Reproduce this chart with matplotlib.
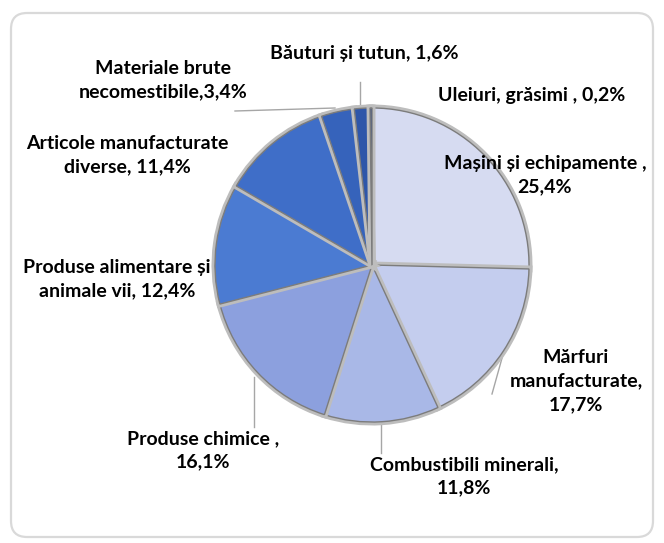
import matplotlib.pyplot as plt
from matplotlib.patches import FancyBboxPatch
from matplotlib.patheffects import Stroke, Normal

# Export structure by product group (share of total, %)
groups = ["Mașini și echipamente ,", "Mărfuri\nmanufacturate,", "Combustibili minerali,",
          "Produse chimice ,", "Produse alimentare și\nanimale vii,", "Articole manufacturate\ndiverse,",
          "Materiale brute\nnecomestibile,", "Băuturi și tutun,", "Uleiuri, grăsimi ,"]
shares = [25.4, 17.7, 11.8, 16.1, 12.4, 11.4, 3.4, 1.6, 0.2]
colors = ["#d6dbf1", "#c4cdee", "#a9b8e7", "#8ca0de", "#4b7bd2",
          "#3f6ec8", "#3663bb", "#2e56a9", "#213f84"]

W, H = 664, 543

fig = plt.figure(figsize=(W / 100, H / 100), dpi=100)
ax = fig.add_axes([0, 0, 1, 1])

# rounded frame around the chart
frame = FancyBboxPatch((11, 6), W - 22, H - 19, boxstyle="round,pad=0,rounding_size=16",
                       facecolor="white", edgecolor="#d9d9d9", linewidth=1.6, zorder=0)
ax.add_patch(frame)

wedges, _ = ax.pie(shares, startangle=90, counterclock=False,
                   center=(372, H - 265), radius=157,
                   colors=colors, explode=[0.02] * len(shares),
                   wedgeprops=dict(edgecolor="#7c7c7c", linewidth=1.0),
                   frame=True)
ax.set_xlim(0, W)
ax.set_ylim(0, H)
ax.set_aspect("equal")
ax.axis("off")
for w in wedges:
    w.set_path_effects([Stroke(linewidth=5, foreground="#bdbdbd"), Normal()])
    w.set_zorder(2)

# label positions (x, y from top) and separator before the value
label_pos = [(545, 175, "\n"), (576, 381, "\n"), (464, 476, "\n"), (203, 450, "\n"),
             (117, 279, " "), (127, 155, " "), (163, 80, ""), (364, 54, " "), (532, 96, " ")]

for name, val, (x, y, sep) in zip(groups, shares, label_pos):
    txt = f"{name}{sep}{str(val).replace('.', ',')}%"
    ax.text(x, H - y, txt, ha="center", va="center", fontsize=14, fontweight="bold",
            family="Lato", color="black", linespacing=1.45, zorder=5)

# leader lines
leaders = [((360, 82), (360, 104)), ((235, 111), (335, 108)), ((504, 351), (492, 394)),
           ((254, 377), (254, 427)), ((381, 420), (381, 453))]
for (x0, y0), (x1, y1) in leaders:
    ax.plot([x0, x1], [H - y0, H - y1], color="#a6a6a6", linewidth=1.0, zorder=1)

fig.savefig("out.png", dpi=100)
